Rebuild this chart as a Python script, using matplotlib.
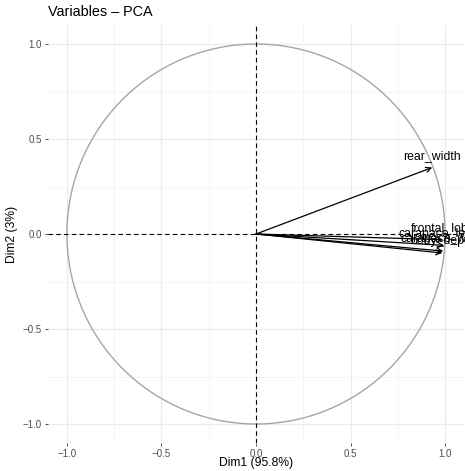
import numpy as np
import matplotlib
matplotlib.use("Agg")
import matplotlib.pyplot as plt

plt.rcParams['font.family'] = ['Liberation Sans', 'DejaVu Sans']

variables = ["frontal_lobe", "rear_width", "carapace_length", "carapace_width", "body_depth"]
dim1 = [0.990, 0.932, 0.995, 0.990, 0.985]
dim2 = [-0.030, 0.350, -0.060, -0.090, -0.100]
ticks = [-1.0, -0.5, 0.0, 0.5, 1.0]
tick_labels = ["\u22121.0", "\u22120.5", "0.0", "0.5", "1.0"]
minor = [-0.75, -0.25, 0.25, 0.75]

fig = plt.figure(figsize=(4.65, 4.71), dpi=100)
ax = fig.add_axes([48/465, 1-443/471, 416/465, 418/471])
ax.set_xlim(-1.1, 1.1)
ax.set_ylim(-1.1, 1.1)

for v in ticks:
    ax.axvline(v, color="#EBEBEB", lw=0.9, zorder=0)
    ax.axhline(v, color="#EBEBEB", lw=0.9, zorder=0)
for v in minor:
    ax.axvline(v, color="#F3F3F3", lw=0.6, zorder=0)
    ax.axhline(v, color="#F3F3F3", lw=0.6, zorder=0)

t = np.linspace(0, 2*np.pi, 400)
ax.plot(np.cos(t), np.sin(t), color="#A6A6A6", lw=1.0, zorder=1)
ax.axhline(0, color="black", lw=0.8, ls=(0, (4, 3)), zorder=2)
ax.axvline(0, color="black", lw=0.8, ls=(0, (4, 3)), zorder=2)

for name, x, y in zip(variables, dim1, dim2):
    ax.annotate("", xy=(x, y), xytext=(0, 0),
                arrowprops=dict(arrowstyle="->", lw=0.9, color="black",
                                mutation_scale=9, shrinkA=0, shrinkB=0),
                zorder=3)
    ax.text(x, y + 0.03, name, ha="center", va="bottom", fontsize=8.8, color="black", zorder=4)

ax.set_xticks(ticks)
ax.set_xticklabels(tick_labels)
ax.set_yticks(ticks)
ax.set_yticklabels(tick_labels)
ax.tick_params(axis="both", labelsize=7, labelcolor="#4D4D4D", color="#333333",
               length=2.5, width=0.6, pad=2)
for s in ax.spines.values():
    s.set_visible(False)

fig.text(256/465, 1-463/471, "Dim1 (95.8%)", fontsize=8.7, ha="center", va="center")
fig.text(12/465, 1-234/471, "Dim2 (3%)", fontsize=8.7, ha="center", va="center", rotation=90)
fig.text(48/465, 1-12/471, "Variables \u2013 PCA", fontsize=10.4, ha="left", va="center")

fig.savefig("out.png", dpi=100)
